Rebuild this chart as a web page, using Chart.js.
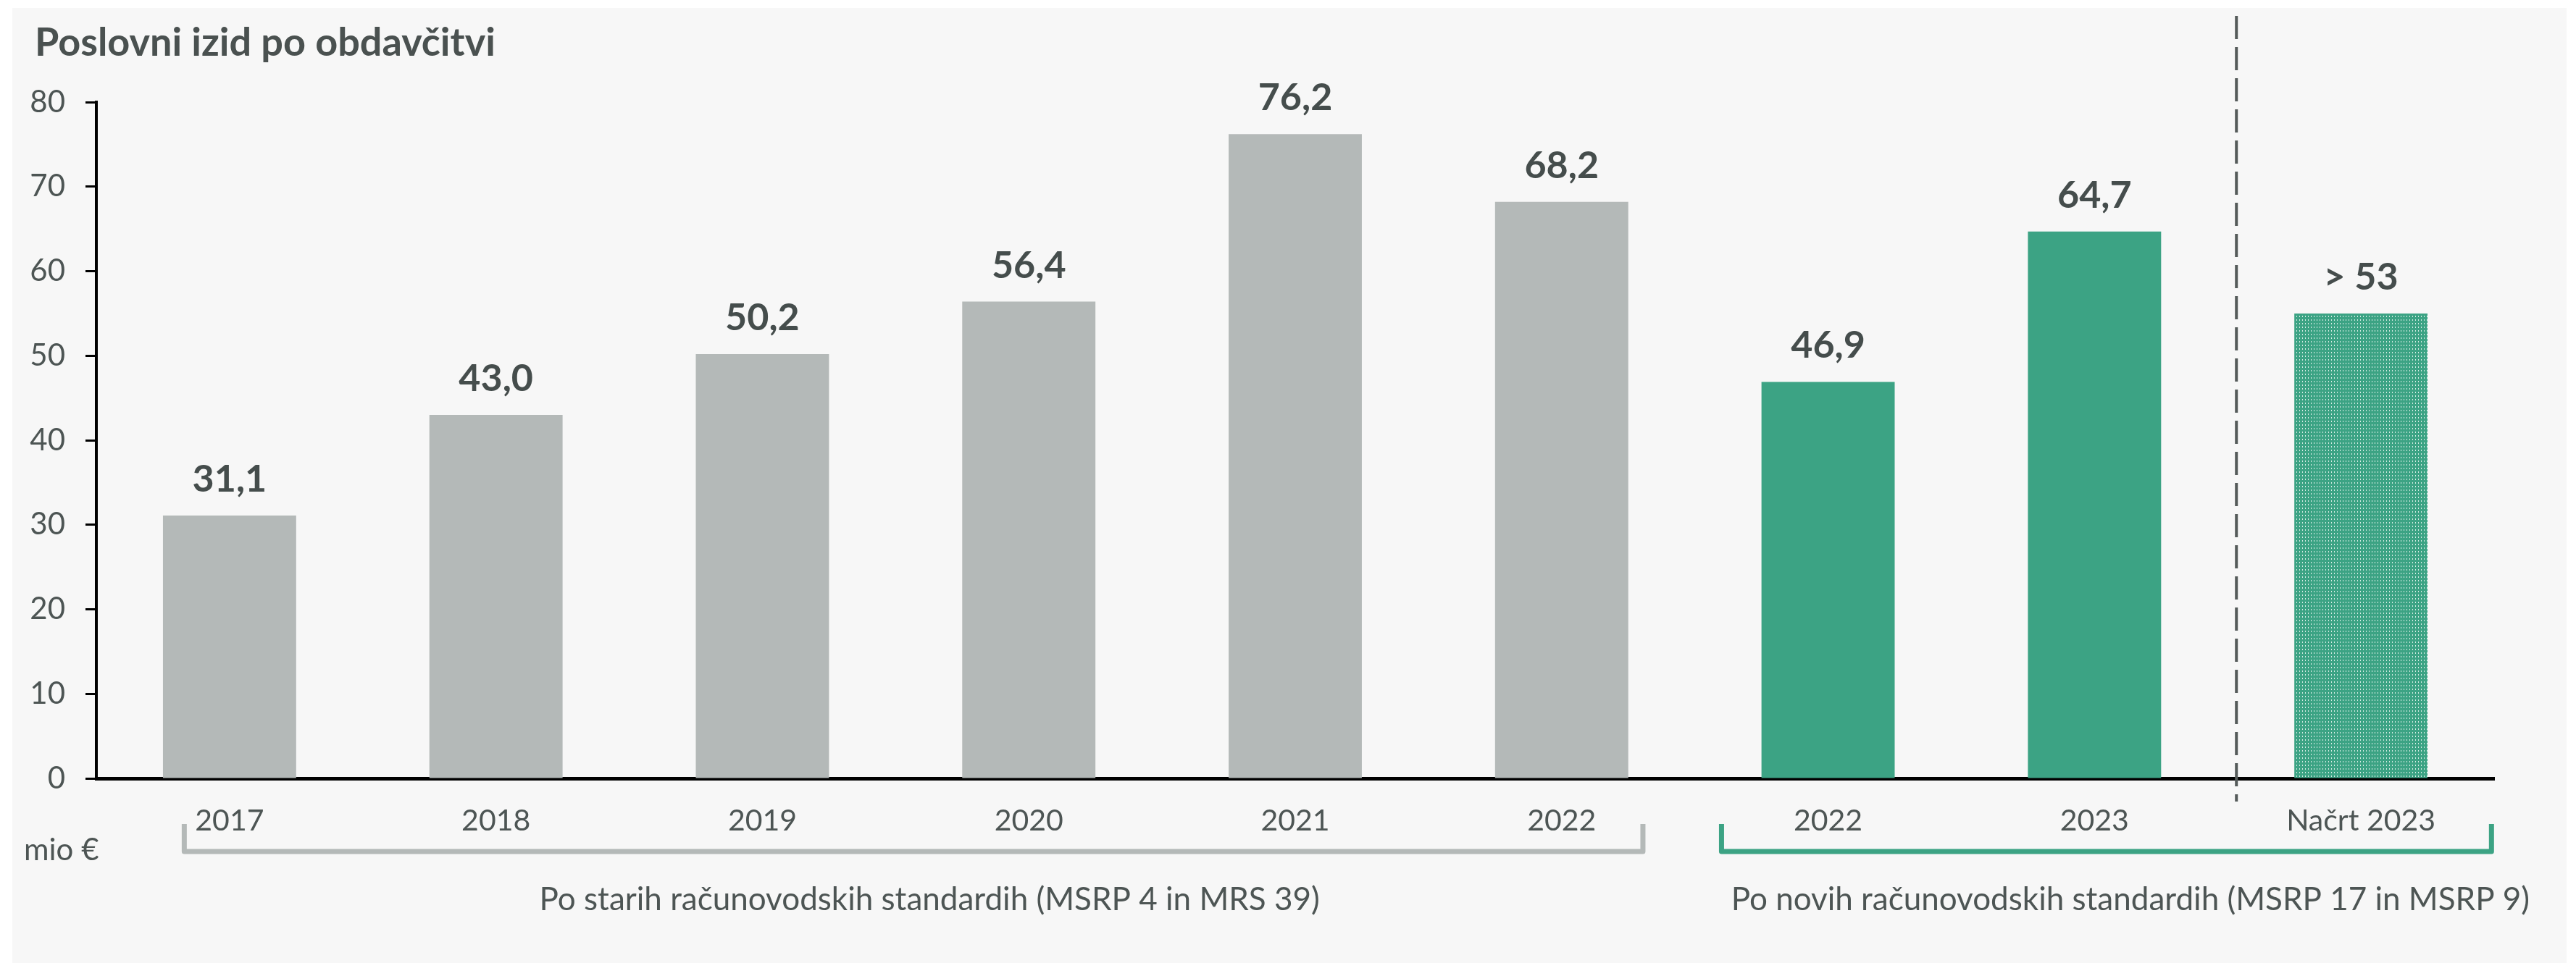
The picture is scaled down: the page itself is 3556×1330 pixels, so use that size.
<!DOCTYPE html>
<html lang="sl">
<head>
    <meta charset="UTF-8">
    <title>Poslovni izid po obdavčitvi</title>
    <style>
        html, body {
            margin: 0;
            padding: 0;
            background: #ffffff;
        }
        canvas {
            display: block;
        }
    </style>
</head>
<body>
    <canvas id="myChart" width="3556" height="1330"></canvas>

    <script src="https://cdn.jsdelivr.net/npm/chart.js"></script>
    <script>
        // podatki
        const categories = ['2017', '2018', '2019', '2020', '2021', '2022', '2022', '2023', 'Načrt 2023'];
        const values = [31.1, 43.0, 50.2, 56.4, 76.2, 68.2, 46.9, 64.7, 55.0];
        const valueLabels = ['31,1', '43,0', '50,2', '56,4', '76,2', '68,2', '46,9', '64,7', '> 53'];
        const yTicks = [0, 10, 20, 30, 40, 50, 60, 70, 80];
        const groupOld = 'Po starih računovodskih standardih (MSRP 4 in MRS 39)';
        const groupNew = 'Po novih računovodskih standardih (MSRP 17 in MSRP 9)';

        const GRAY = '#b4b9b8';
        const GREEN = '#3ca384';
        const TEXT = '#4d5554';
        const DARK = '#454d4c';

        // vzorec za načrt (zelene črte z belimi pikami)
        function makePattern() {
            const c = document.createElement('canvas');
            c.width = 4;
            c.height = 5;
            const g = c.getContext('2d');
            g.fillStyle = GREEN;
            g.fillRect(0, 0, 4, 5);
            g.fillStyle = 'rgba(255,255,255,0.8)';
            g.fillRect(2, 1, 1, 2);
            return c;
        }
        const ctx = document.getElementById('myChart').getContext('2d');
        const pattern = ctx.createPattern(makePattern(), 'repeat');

        const barColors = values.map((_, i) => i < 6 ? GRAY : (i < 8 ? GREEN : pattern));

        // ozadje, naslov, oznake, oklepaji
        const decorPlugin = {
            id: 'decor',
            beforeDraw(chart) {
                const c = chart.ctx;
                c.save();
                c.fillStyle = '#ffffff';
                c.fillRect(0, 0, chart.width, chart.height);
                c.fillStyle = '#f7f7f7';
                c.fillRect(17, 11, chart.width - 30, chart.height - 11);
                c.restore();
            },
            afterDatasetsDraw(chart) {
                const c = chart.ctx;
                const x = chart.scales.x;
                const y = chart.scales.y;
                const w = x.getPixelForValue(1) - x.getPixelForValue(0);
                c.save();

                // naslov
                c.fillStyle = '#4a5150';
                c.font = 'bold 54px Lato';
                c.textAlign = 'left';
                c.textBaseline = 'alphabetic';
                c.fillText('Poslovni izid po obdavčitvi', 48, 77);

                // vrednosti nad stolpci
                c.fillStyle = DARK;
                c.font = 'bold 52px Lato';
                c.textAlign = 'center';
                values.forEach((v, i) => {
                    c.fillText(valueLabels[i], x.getPixelForValue(i), y.getPixelForValue(v) - 33);
                });

                // enota
                c.fillStyle = TEXT;
                c.font = '42px Lato';
                c.textAlign = 'left';
                c.fillText('mio €', 33, 1188);

                // črtkana ločnica
                const sepX = (x.getPixelForValue(7) + x.getPixelForValue(8)) / 2 + 12;
                c.strokeStyle = '#555b5a';
                c.lineWidth = 4;
                c.setLineDash([32, 11]);
                c.beginPath();
                c.moveTo(sepX, 22);
                c.lineTo(sepX, 1107);
                c.stroke();
                c.setLineDash([]);

                // oklepaji pod osjo
                function bracket(x1, x2, color) {
                    c.strokeStyle = color;
                    c.lineWidth = 7;
                    c.lineJoin = 'round';
                    c.lineCap = 'butt';
                    c.beginPath();
                    c.moveTo(x1, 1138);
                    c.lineTo(x1, 1176);
                    c.lineTo(x2, 1176);
                    c.lineTo(x2, 1138);
                    c.stroke();
                }
                const oldL = x.getPixelForValue(0) - 0.17 * w;
                const oldR = x.getPixelForValue(5) + 0.305 * w;
                const newL = x.getPixelForValue(6) - 0.40 * w;
                const newR = x.getPixelForValue(8) + 0.49 * w;
                bracket(oldL, oldR, GRAY);
                bracket(newL, newR, GREEN);

                c.fillStyle = TEXT;
                c.font = '44px Lato';
                c.textAlign = 'center';
                c.textBaseline = 'middle';
                c.fillText(groupOld, (oldL + oldR) / 2 + 22, 1243);
                c.fillText(groupNew, (newL + newR) / 2 + 33, 1243);

                c.restore();
            }
        };

        new Chart(ctx, {
            type: 'bar',
            data: {
                labels: categories,
                datasets: [{
                    data: values,
                    backgroundColor: barColors,
                    borderWidth: 0,
                    barPercentage: 0.5,
                    categoryPercentage: 1.0
                }]
            },
            options: {
                responsive: false,
                animation: false,
                devicePixelRatio: 1,
                layout: {
                    padding: { top: 141, right: 113, left: 0, bottom: 0 }
                },
                plugins: {
                    legend: { display: false },
                    tooltip: { enabled: false },
                    title: { display: false }
                },
                scales: {
                    x: {
                        offset: true,
                        grid: { drawOnChartArea: false, drawTicks: false },
                        border: { display: true, color: '#000000', width: 5 },
                        ticks: {
                            color: TEXT,
                            font: { family: 'Lato', size: 41 },
                            padding: 34,
                            autoSkip: false,
                            maxRotation: 0
                        },
                        afterFit(scale) {
                            scale.height = 255;
                        }
                    },
                    y: {
                        min: 0,
                        max: 80,
                        afterBuildTicks(scale) {
                            scale.ticks = yTicks.map(v => ({ value: v }));
                        },
                        grid: {
                            drawOnChartArea: false,
                            drawTicks: true,
                            tickLength: 15,
                            tickColor: '#000000',
                            tickWidth: 3
                        },
                        border: { display: true, color: '#000000', width: 4 },
                        ticks: {
                            color: TEXT,
                            font: { family: 'Lato', size: 42 },
                            padding: 28
                        },
                        afterFit(scale) {
                            scale.width = 133;
                        }
                    }
                }
            },
            plugins: [decorPlugin]
        });
    </script>
</body>
</html>
